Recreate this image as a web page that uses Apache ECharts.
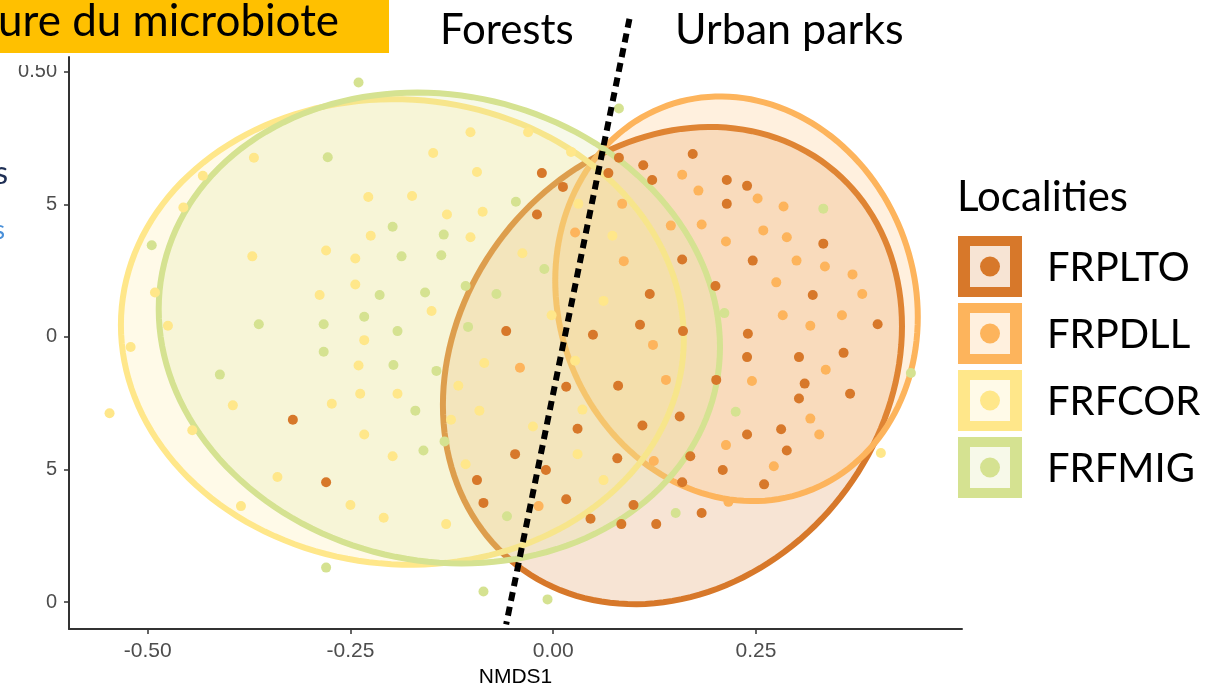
<!DOCTYPE html>
<html>
<head>
<meta charset="utf-8">
<script src="https://cdn.jsdelivr.net/npm/echarts@6/dist/echarts.min.js"></script>
<style>
  html, body { margin: 0; padding: 0; background: #fff; }
  #chart { width: 1218px; height: 693px; }
</style>
</head>
<body>
<div id="chart"></div>
<script>
// --- data (NMDS1 / NMDS2 scores) ---
const groups = ['FRPLTO', 'FRPDLL', 'FRFCOR', 'FRFMIG'];

const pltoPts = [
  [-0.014, 0.309], [0.068, 0.309], [0.081, 0.338], [0.111, 0.324], [0.122, 0.296], [0.172, 0.345],
  [0.012, 0.283], [-0.020, 0.231], [0.214, 0.296], [0.239, 0.285], [0.214, 0.251], [0.333, 0.176],
  [0.159, 0.146], [0.246, 0.144], [0.200, 0.096], [0.119, 0.081], [0.320, 0.079], [0.400, 0.024],
  [0.107, 0.023], [0.160, 0.011], [0.240, 0.006], [-0.058, 0.011], [0.049, 0.004], [0.239, -0.038],
  [0.303, -0.038], [0.358, -0.030], [0.201, -0.081], [0.310, -0.088], [0.366, -0.107], [0.303, -0.116],
  [0.016, -0.094], [0.080, -0.092], [0.156, -0.150], [0.110, -0.167], [0.030, -0.173], [0.239, -0.184],
  [0.281, -0.174], [0.288, -0.214], [0.169, -0.225], [-0.047, -0.221], [0.079, -0.229], [-0.009, -0.251],
  [0.209, -0.251], [-0.094, -0.270], [0.159, -0.274], [0.260, -0.278], [0.016, -0.306], [-0.086, -0.313],
  [0.099, -0.317], [0.046, -0.343], [0.084, -0.353], [0.127, -0.353], [0.183, -0.332], [-0.321, -0.156],
  [-0.280, -0.274]
];
const pdllPts = [
  [0.085, 0.251], [0.027, 0.197], [0.087, 0.143], [0.123, -0.015], [-0.041, -0.058], [0.124, -0.234],
  [-0.018, -0.319], [0.159, 0.306], [0.179, 0.276], [0.252, 0.261], [0.284, 0.246], [0.145, 0.210],
  [0.183, 0.212], [0.213, 0.180], [0.259, 0.201], [0.288, 0.188], [0.300, 0.144], [0.335, 0.133],
  [0.369, 0.118], [0.275, 0.103], [0.381, 0.081], [0.283, 0.041], [0.356, 0.041], [0.317, 0.021],
  [0.139, -0.081], [0.245, -0.083], [0.336, -0.062], [0.317, -0.154], [0.328, -0.184], [0.213, -0.204],
  [0.272, -0.244], [0.216, -0.311]
];
const fcorPts = [
  [-0.369, 0.338], [-0.432, 0.304], [-0.456, 0.244], [-0.228, 0.264], [-0.371, 0.152], [-0.280, 0.163],
  [-0.244, 0.148], [-0.244, 0.099], [-0.288, 0.079], [-0.491, 0.084], [-0.475, 0.021], [-0.233, -0.006],
  [-0.521, -0.019], [-0.240, -0.054], [-0.238, -0.107], [-0.273, -0.126], [-0.395, -0.129], [-0.547, -0.144],
  [-0.445, -0.176], [-0.233, -0.184], [-0.340, -0.264], [-0.250, -0.317], [-0.385, -0.319], [-0.102, 0.386],
  [-0.031, 0.386], [-0.148, 0.347], [-0.094, 0.311], [0.022, 0.349], [-0.174, 0.266], [-0.131, 0.231],
  [-0.087, 0.236], [0.031, 0.251], [-0.225, 0.191], [-0.102, 0.188], [0.073, 0.191], [-0.038, 0.158],
  [0.062, 0.068], [-0.150, 0.049], [-0.002, 0.041], [-0.085, -0.049], [0.027, -0.045], [-0.192, -0.107],
  [-0.117, -0.092], [-0.091, -0.139], [0.036, -0.137], [-0.126, -0.156], [-0.025, -0.169], [-0.198, -0.225],
  [0.030, -0.221], [-0.108, -0.240], [0.062, -0.270], [-0.209, -0.341], [-0.132, -0.353], [0.404, -0.219]
];
const fmigPts = [
  [-0.240, 0.480], [-0.278, 0.339], [-0.495, 0.173], [-0.363, 0.024], [-0.283, 0.024], [-0.233, 0.038],
  [-0.283, -0.028], [-0.411, -0.071], [-0.280, -0.435], [0.081, 0.431], [-0.046, 0.255], [-0.198, 0.208],
  [-0.135, 0.193], [-0.187, 0.152], [-0.138, 0.154], [-0.011, 0.128], [-0.108, 0.096], [-0.214, 0.079],
  [-0.158, 0.084], [-0.070, 0.081], [-0.192, 0.011], [-0.105, 0.019], [-0.197, -0.053], [-0.144, -0.064],
  [-0.170, -0.139], [-0.160, -0.214], [-0.134, -0.197], [-0.057, -0.338], [-0.086, -0.480], [-0.007, -0.495],
  [0.333, 0.242], [0.211, 0.045], [0.441, -0.068], [0.225, -0.141], [0.151, -0.332]
];
const groupPts = [pltoPts, pdllPts, fcorPts, fmigPts];

// ellipse: [centre x, centre y, half width, half height, correlation]
const ellPLTO = [0.147, -0.054, 0.283, 0.450, 0.165];
const ellPDLL = [0.226, 0.072, 0.2235, 0.3816, -0.09];
const ellFCOR = [-0.186, 0.0094, 0.347, 0.439, -0.03];
const ellFMIG = [-0.1404, 0.0169, 0.346, 0.444, -0.08];
const groupEll = [ellPLTO, ellPDLL, ellFCOR, ellFMIG];

const dividerLine = [[0.094, 0.600], [-0.058, -0.542]];

const xTicks = [-0.5, -0.25, 0, 0.25];
const yTicks = [-0.5, -0.25, 0, 0.25, 0.5];

// --- styles ---
const colors = ['#D7782A', '#FDB45C', '#FFE78A', '#D5E291'];
const axisFont = "'Liberation Sans Narrow', 'Liberation Sans', Arial, sans-serif";
const slideFont = "Lato, 'Open Sans', sans-serif";

const mixWhite = (hex, a) => {
  const n = parseInt(hex.slice(1), 16);
  const ch = [(n >> 16) & 255, (n >> 8) & 255, n & 255].map(c => Math.round(255 - a * (255 - c)));
  return 'rgb(' + ch.join(',') + ')';
};
const withAlpha = (hex, a) => {
  const n = parseInt(hex.slice(1), 16);
  return 'rgba(' + ((n >> 16) & 255) + ',' + ((n >> 8) & 255) + ',' + (n & 255) + ',' + a + ')';
};

const ellipseSeries = groups.map((g, i) => ({
  name: g,
  type: 'custom',
  z: 1,
  silent: true,
  data: [groupEll[i]],
  renderItem: (params, api) => {
    const cx = api.value(0), cy = api.value(1), sx = api.value(2), sy = api.value(3), r = api.value(4);
    const pts = [];
    const n = 160;
    for (let k = 0; k < n; k++) {
      const t = k / n * Math.PI * 2;
      pts.push(api.coord([cx + sx * Math.cos(t), cy + sy * (r * Math.cos(t) + Math.sqrt(1 - r * r) * Math.sin(t))]));
    }
    return {
      type: 'polygon',
      shape: { points: pts },
      style: { fill: withAlpha(colors[i], 0.2), stroke: colors[i], lineWidth: 6 }
    };
  }
}));

const pointSeries = groups.map((g, i) => ({
  name: g,
  type: 'scatter',
  z: 2,
  symbol: 'circle',
  symbolSize: 10,
  itemStyle: { color: colors[i], opacity: 1 },
  data: groupPts[i]
}));

// legend built by hand: thick coloured frame, pale inside, dot
const legendEls = [];
groups.forEach((g, i) => {
  const top = 236 + i * 67;
  legendEls.push(
    { type: 'rect', left: 958, top: top, shape: { width: 64, height: 61 }, style: { fill: colors[i] } },
    { type: 'rect', left: 970, top: top + 10, shape: { width: 40, height: 41 }, style: { fill: mixWhite(colors[i], 0.2) } },
    { type: 'circle', shape: { cx: 990, cy: top + 30.5, r: 10 }, style: { fill: colors[i] } },
    { type: 'text', left: 1047, top: top + 12, style: { text: g, font: '40px ' + slideFont, fill: '#000' } }
  );
});

const chart = echarts.init(document.getElementById('chart'));
chart.setOption({
  animation: false,
  grid: { left: 69, top: 57, width: 893, height: 575, containLabel: false },
  xAxis: {
    type: 'value',
    min: -0.597, max: 0.504,
    name: 'NMDS1',
    nameLocation: 'middle',
    nameGap: 35,
    nameTextStyle: { fontFamily: axisFont, fontSize: 21, color: '#000' },
    axisLine: { show: true, onZero: false, lineStyle: { color: '#333', width: 2 } },
    axisTick: { show: true, length: 5, customValues: xTicks, lineStyle: { color: '#333', width: 1.5 } },
    axisLabel: { customValues: xTicks, margin: 12, formatter: v => v.toFixed(2), fontFamily: axisFont, fontSize: 21, color: '#4D4D4D' },
    splitLine: { show: false }
  },
  yAxis: {
    type: 'value',
    min: -0.551, max: 0.528,
    axisLine: { show: true, onZero: false, lineStyle: { color: '#333', width: 2 } },
    axisTick: { show: true, length: 5, customValues: yTicks, lineStyle: { color: '#333', width: 1.5 } },
    axisLabel: { customValues: yTicks, margin: 12, formatter: v => v.toFixed(2), fontFamily: axisFont, fontSize: 20, color: '#4D4D4D' },
    splitLine: { show: false }
  },
  series: [
    ...ellipseSeries,
    ...pointSeries,
    {
      name: 'divider',
      type: 'line',
      z: 5,
      clip: false,
      silent: true,
      symbol: 'none',
      lineStyle: { color: '#000', width: 6, type: [9, 6], cap: 'butt' },
      data: dividerLine
    }
  ],
  graphic: [
    // slide crop: banner and pieces covering the left of the axis labels
    { type: 'rect', left: 0, top: 0, z: 100, shape: { width: 389, height: 53 }, style: { fill: '#FFC000' } },
    { type: 'text', left: -2, top: 0, z: 101, style: { text: 'ure du microbiote', font: '44px ' + slideFont, fill: '#000' } },
    { type: 'rect', left: 0, top: 53, z: 100, shape: { width: 62, height: 12 }, style: { fill: '#fff' } },
    { type: 'rect', left: 0, top: 85, z: 100, shape: { width: 45, height: 608 }, style: { fill: '#fff' } },
    { type: 'text', right: 1210, top: 158, z: 101, style: { text: 's', font: '32px ' + slideFont, fill: '#1F2F55' } },
    { type: 'text', right: 1213, top: 218, z: 101, style: { text: 's', font: '26px ' + slideFont, fill: '#4A90D9' } },
    { type: 'text', left: 440, top: 9, z: 101, style: { text: 'Forests', font: '42px ' + slideFont, fill: '#000' } },
    { type: 'text', left: 675, top: 9, z: 101, style: { text: 'Urban parks', font: '43px ' + slideFont, fill: '#000' } },
    { type: 'text', left: 957, top: 176, z: 101, style: { text: 'Localities', font: '42px ' + slideFont, fill: '#000' } },
    ...legendEls
  ]
});
</script>
</body>
</html>
